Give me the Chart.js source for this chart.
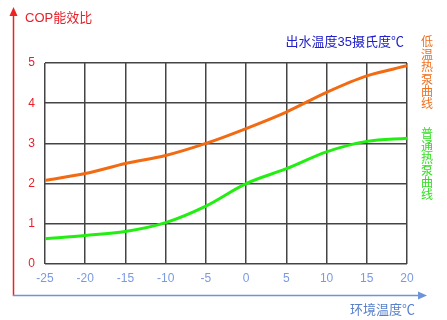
<!DOCTYPE html>
<html>
<head>
<meta charset="utf-8">
<script src="https://cdn.jsdelivr.net/npm/chart.js@4"></script>
<style>
html,body{margin:0;padding:0;background:#fff;}
#wrap{position:relative;width:447px;height:320px;}
</style>
</head>
<body>
<div id="wrap"><canvas id="c" width="447" height="320"></canvas></div>
<script>
const temps = [-25, -20, -15, -10, -5, 0, 5, 10, 15, 20];
const lowTempHP = [2.08, 2.25, 2.5, 2.7, 3.0, 3.37, 3.78, 4.27, 4.68, 4.93];
const normalHP = [0.63, 0.71, 0.81, 1.03, 1.44, 2.0, 2.37, 2.79, 3.05, 3.13];
const yTitle = 'COP能效比';
const xTitle = '环境温度℃';
const noteText = '出水温度35摄氏度℃';
const lowLabel = '低温热泵曲线';
const normalLabel = '普通热泵曲线';

const FONT = '"Liberation Sans","Noto Sans CJK SC",sans-serif';

const deco = {
  id: 'deco',
  afterDraw(chart) {
    const ctx = chart.ctx;
    ctx.save();
    // red vertical axis with arrow
    ctx.strokeStyle = '#ee2222';
    ctx.fillStyle = '#ee2222';
    ctx.lineWidth = 1.5;
    ctx.beginPath(); ctx.moveTo(13.5, 14); ctx.lineTo(13.5, 296); ctx.stroke();
    ctx.beginPath(); ctx.moveTo(13.5, 7); ctx.lineTo(9.5, 16); ctx.lineTo(17.5, 16); ctx.closePath(); ctx.fill();
    // blue horizontal axis with arrow
    ctx.strokeStyle = '#6f93d8';
    ctx.fillStyle = '#6f93d8';
    ctx.beginPath(); ctx.moveTo(13, 295.5); ctx.lineTo(420, 295.5); ctx.stroke();
    ctx.beginPath(); ctx.moveTo(427, 295.5); ctx.lineTo(418, 291.5); ctx.lineTo(418, 299.5); ctx.closePath(); ctx.fill();
    // texts
    ctx.textBaseline = 'middle';
    ctx.font = '13px ' + FONT;
    ctx.fillStyle = '#e8202a';
    ctx.textAlign = 'left';
    ctx.fillText(yTitle, 25, 18);
    ctx.fillStyle = '#2020cc';
    ctx.textAlign = 'right';
    ctx.fillText(noteText, 404, 42);
    ctx.fillStyle = '#5a80cc';
    ctx.fillText(xTitle, 415, 310);
    ctx.textAlign = 'center';
    ctx.font = '12px ' + FONT;
    ctx.fillStyle = '#f07020';
    [...lowLabel].forEach((ch, i) => ctx.fillText(ch, 427, 43 + i * 12.4));
    ctx.fillStyle = '#33dd22';
    [...normalLabel].forEach((ch, i) => ctx.fillText(ch, 427, 135 + i * 12.2));
    ctx.restore();
  }
};

new Chart(document.getElementById('c'), {
  type: 'line',
  data: {
    datasets: [
      {
        label: lowLabel,
        data: temps.map((t, i) => ({x: t, y: lowTempHP[i]})),
        borderColor: '#f26a12',
        borderWidth: 3,
        pointRadius: 0,
        tension: 0.4,
        cubicInterpolationMode: 'monotone',
        fill: false
      },
      {
        label: normalLabel,
        data: temps.map((t, i) => ({x: t, y: normalHP[i]})),
        borderColor: '#22ee11',
        borderWidth: 3,
        pointRadius: 0,
        tension: 0.4,
        cubicInterpolationMode: 'monotone',
        fill: false
      }
    ]
  },
  options: {
    responsive: false,
    animation: false,
    layout: { padding: { left: 0, right: 40, top: 63, bottom: 36 } },
    plugins: { legend: { display: false }, tooltip: { enabled: false } },
    scales: {
      x: {
        type: 'linear',
        min: -25, max: 20,
        afterFit(s) { s.height = 20; },
        border: { display: false },
        grid: { color: '#444', lineWidth: 1.5, drawTicks: false },
        ticks: { stepSize: 5, color: '#7a9ae0', padding: 7, font: { size: 12, family: FONT } }
      },
      y: {
        min: 0, max: 5,
        afterFit(s) { s.width = 45; },
        border: { display: false },
        grid: { color: '#444', lineWidth: 1.5, drawTicks: false },
        ticks: { stepSize: 1, color: '#e8202a', padding: 10, font: { size: 12, family: FONT } }
      }
    }
  },
  plugins: [deco]
});
</script>
</body>
</html>
